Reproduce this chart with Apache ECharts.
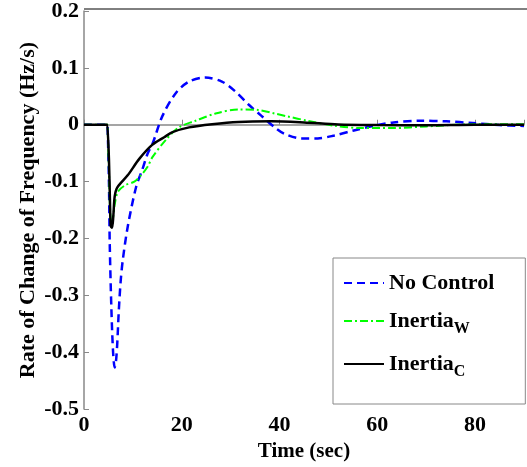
<!DOCTYPE html>
<html>
<head>
<meta charset="utf-8">
<script src="https://cdn.jsdelivr.net/npm/echarts@6/dist/echarts.min.js"></script>
<style>
  html, body { margin: 0; padding: 0; background: #fff; }
  #chart { width: 527px; height: 467px; }
</style>
</head>
<body>
<div id="chart"></div>
<script>
// 读图得到的数据 (时间 s, 频率变化率 Hz/s)
var noCtrlT = [0, 4.8, 4.93, 5.1, 5.26, 5.6, 5.95, 6.28, 6.55, 6.8, 7.1, 7.5, 7.96, 8.97, 10.67, 12, 13, 14, 16.05, 18.8, 21.5, 24.8, 28.2, 30.9, 33.6, 36.3, 39, 41, 44.4, 47.8, 51.2, 55.2, 59.3, 63.3, 68.7, 74.1, 79.5, 84.9, 90];
var noCtrlV = [0, 0, 0, -0.1, -0.207, -0.323, -0.4, -0.427, -0.415, -0.385, -0.33, -0.275, -0.236, -0.178, -0.109, -0.077, -0.051, -0.034, 0.0156, 0.056, 0.076, 0.083, 0.076, 0.059, 0.036, 0.0156, -0.0046, -0.016, -0.024, -0.024, -0.019, -0.01, -0.0017, 0.004, 0.007, 0.006, 0.003, -0.0005, -0.002];

var inertiaWT = [0, 4.8, 4.93, 5.1, 5.4, 5.7, 6.0, 6.28, 6.95, 8.5, 10.3, 11.7, 13, 14, 16.7, 19.4, 22.8, 26.9, 31.6, 35.6, 39, 41.7, 45.7, 51.2, 56.5, 63.3, 70, 78.1, 90];
var inertiaWV = [0, 0, 0, -0.08, -0.16, -0.178, -0.16, -0.14, -0.1175, -0.106, -0.1, -0.0885, -0.074, -0.057, -0.027, -0.0046, 0.007, 0.0197, 0.027, 0.026, 0.0197, 0.0145, 0.007, -0.0017, -0.0058, -0.0058, -0.003, 0.0006, 0.001];

var inertiaCT = [0, 4.8, 4.93, 5.1, 5.3, 5.47, 5.74, 6.0, 6.28, 6.82, 8.97, 11.3, 14, 16.4, 18.1, 21.5, 26.2, 31.6, 38.3, 45, 52, 60, 70, 80, 90];
var inertiaCV = [0, 0, 0, -0.06, -0.13, -0.178, -0.181, -0.16, -0.126, -0.11, -0.0885, -0.06, -0.035, -0.022, -0.013, -0.0046, 0.001, 0.005, 0.006, 0.004, 0.0006, -0.0005, -0.001, 0, 0];

function zip(t, v) {
    var out = [];
    for (var i = 0; i < t.length; i++) out.push([t[i], v[i]]);
    return out;
}

var font = '"Liberation Serif", "Times New Roman", serif';
var chart = echarts.init(document.getElementById('chart'));

chart.setOption({
    animation: false,
    grid: { left: 84, right: -2, top: 9, bottom: 55 },
    legend: {
        orient: 'vertical',
        left: 333,
        top: 258,
        padding: [14, 31, 24, 10],
        itemGap: 16,
        itemWidth: 40,
        itemHeight: 14,
        backgroundColor: '#fff',
        borderColor: '#888',
        borderWidth: 1,
        itemStyle: { opacity: 0 },
        data: ['No Control', 'InertiaW', 'InertiaC'],
        formatter: function (name) {
            if (name === 'InertiaW') return '{b|Inertia}{s|W}';
            if (name === 'InertiaC') return '{b|Inertia}{s|C}';
            return '{b|' + name + '}';
        },
        textStyle: {
            fontFamily: font, fontWeight: 'bold', fontSize: 22, color: '#000',
            rich: {
                b: { fontFamily: font, fontWeight: 'bold', fontSize: 22, color: '#000', lineHeight: 32, verticalAlign: 'middle' },
                s: { fontFamily: font, fontWeight: 'bold', fontSize: 16, color: '#000', lineHeight: 32, verticalAlign: 'bottom' }
            }
        }
    },
    xAxis: {
        type: 'value',
        min: 0, max: 90, interval: 20,
        name: 'Time (sec)',
        nameLocation: 'middle',
        nameGap: 28,
        nameTextStyle: { fontFamily: font, fontWeight: 'bold', fontSize: 21, color: '#000' },
        axisLine: { lineStyle: { color: '#888', width: 1.5 } },
        axisTick: { inside: true, length: 5, lineStyle: { color: '#888' } },
        axisLabel: {
            fontFamily: font, fontWeight: 'bold', fontSize: 22, color: '#000', margin: 5,
            formatter: function (v) { return v % 20 === 0 ? String(v) : ''; }
        },
        splitLine: { show: false }
    },
    yAxis: {
        type: 'value',
        min: -0.5, max: 0.2, interval: 0.1,
        name: 'Rate of Change of Frequency (Hz/s)',
        nameLocation: 'middle',
        nameGap: 45,
        nameMoveOverlap: false,
        nameTextStyle: { fontFamily: font, fontWeight: 'bold', fontSize: 22, color: '#000' },
        axisLine: { show: true, lineStyle: { color: '#888', width: 1.5 } },
        axisTick: { show: true, inside: true, length: 5, lineStyle: { color: '#888' } },
        axisLabel: {
            fontFamily: font, fontWeight: 'bold', fontSize: 22, color: '#000', margin: 5,
            formatter: function (v) { return String(Math.round(v * 10) / 10); }
        },
        splitLine: { show: false }
    },
    graphic: [{
        type: 'line',
        shape: { x1: 84, y1: 9, x2: 527, y2: 9 },
        style: { stroke: '#000', lineWidth: 1 }
    }],
    series: [
        {
            name: 'No Control', type: 'line', symbol: 'none',
            smooth: 0.3,
            lineStyle: { color: '#0000ff', width: 2.5, type: [8, 5] },
            itemStyle: { color: '#0000ff' },
            data: zip(noCtrlT, noCtrlV)
        },
        {
            name: 'InertiaW', type: 'line', symbol: 'none',
            smooth: 0.3,
            lineStyle: { color: '#00ff00', width: 2, type: [8, 3, 2, 3] },
            itemStyle: { color: '#00ff00' },
            data: zip(inertiaWT, inertiaWV)
        },
        {
            name: 'InertiaC', type: 'line', symbol: 'none',
            smooth: 0.3,
            lineStyle: { color: '#000', width: 2.5 },
            itemStyle: { color: '#000' },
            data: zip(inertiaCT, inertiaCV)
        }
    ]
});
</script>
</body>
</html>
